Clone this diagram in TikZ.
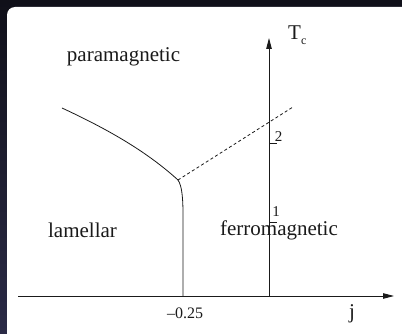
\documentclass[tikz,border=0pt]{standalone}
\usepackage{fontspec}
\setmainfont{Liberation Serif}
\usetikzlibrary{arrows.meta}
\definecolor{ink}{HTML}{1A1A1A}
\definecolor{slatetop}{HTML}{101019}
\definecolor{slatelow}{HTML}{2A2A46}

\begin{document}
\begin{tikzpicture}[
  x=1pt, y=-1pt, color=ink,
  axis/.style={line width=0.9pt, -{Triangle[length=11pt, width=5.5pt]}},
  phase/.style={line width=0.8pt},
  crossover/.style={phase, dash pattern=on 3pt off 2.5pt},
  region/.style={font=\fontsize{21}{24}\selectfont, inner sep=0pt, anchor=base},
  ticklbl/.style={font=\fontsize{15}{17}\selectfont, inner sep=0pt, anchor=base},
]
\useasboundingbox (0,0) rectangle (402,334);
% slide backdrop
\shade[top color=slatetop, bottom color=slatelow] (0,0) rectangle (402,334);
\fill[white, rounded corners=8pt] (7,7) rectangle (420,345);

% axes
\coordinate (xstart) at (18,296);
\coordinate (origin) at (269,296);
\coordinate (xend) at (394,296);
\coordinate (yend) at (269,38);
\draw[axis] (xstart) -- (xend);
\draw[axis] (origin) -- (yend);
\node[region, anchor=base west] (tc) at (288,40) {T\raisebox{-5pt}{\fontsize{12}{12}\selectfont c}};
\node[region] (jlbl) at (352,318) {j};

% ticks on the T_c axis
\coordinate (tick1) at (269,222);
\coordinate (tick2) at (269,143);
\draw[phase] (tick1) -- ++(8,0);
\draw[phase] (tick2) -- ++(8,0);
\node[ticklbl] (one) at (276,217) {1};
\node[ticklbl] (two) at (278.5,142) {2};

% phase boundaries
\coordinate (high) at (62,108);
\coordinate (tri) at (178,180);
\coordinate (bend) at (183,215);
\coordinate (lamfoot) at (183,296);
\coordinate (dashend) at (293,107);
\draw[phase] (high) .. controls (105,128) and (145,150) .. (tri);
\draw[phase] (tri) .. controls (182,186) and (183,198) .. (bend) -- (lamfoot);
\draw[crossover] (tri) -- (dashend);
\node[ticklbl, font=\fontsize{16}{18}\selectfont] (jc) at (185,318) {--0.25};

% regions
\node[region] (para) at (123.5,62) {paramagnetic};
\node[region] (lam) at (82.5,237) {lamellar};
\node[region] (ferro) at (279,236) {ferromagnetic};
\end{tikzpicture}
\end{document}
